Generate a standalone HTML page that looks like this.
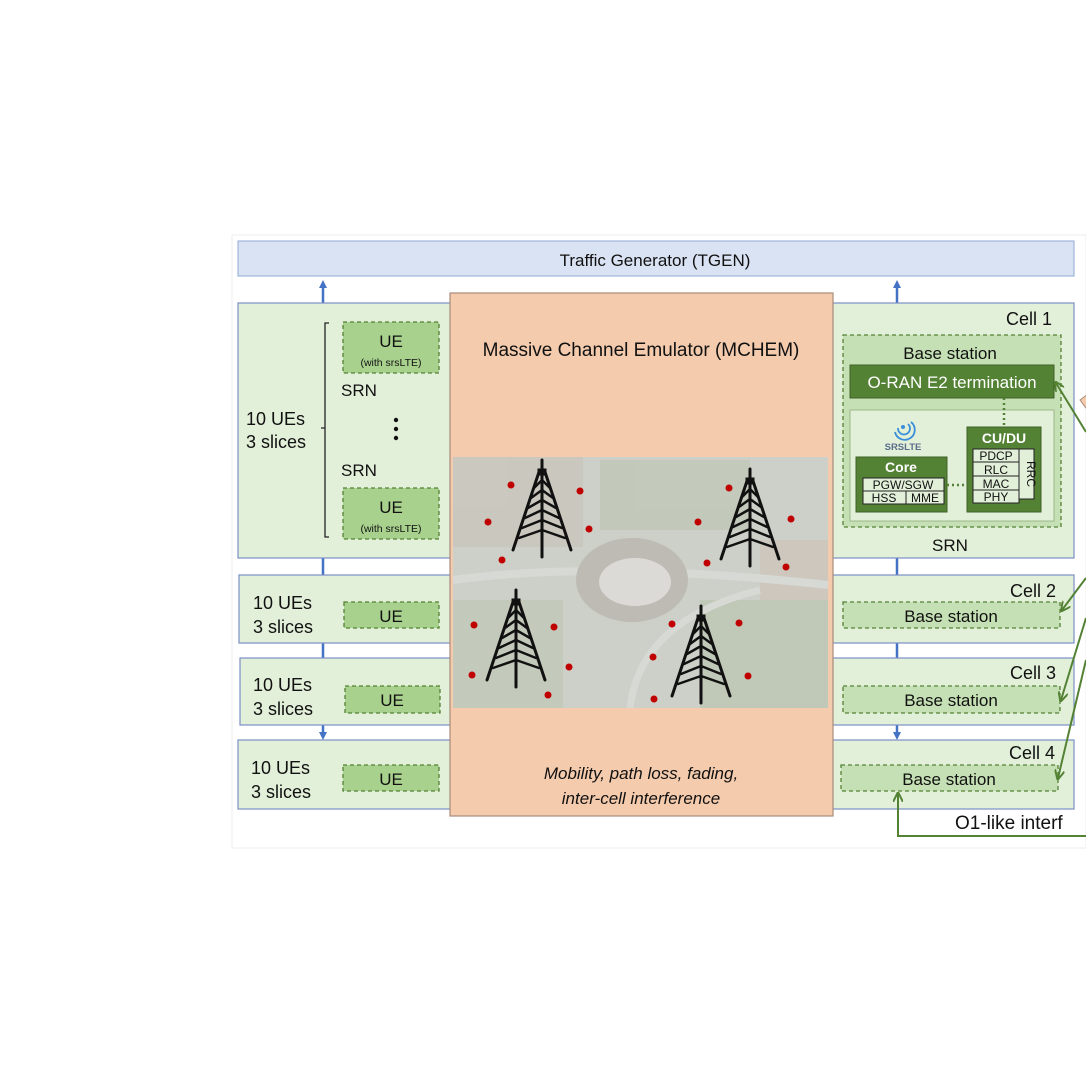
<!DOCTYPE html>
<html><head><meta charset="utf-8"><style>
html,body{margin:0;padding:0;background:#fff;width:1086px;height:1068px;overflow:hidden}
svg text{font-family:"Liberation Sans","DejaVu Sans",sans-serif}
</style></head><body>
<svg width="1086" height="1068" viewBox="0 0 1086 1068" xmlns="http://www.w3.org/2000/svg">
<defs>
<marker id="ab" markerWidth="8" markerHeight="8" refX="4" refY="4" orient="auto" markerUnits="userSpaceOnUse"><path d="M0,0 L8,4 L0,8 z" fill="#4472c4"/></marker>
<marker id="ag" markerWidth="10" markerHeight="10" refX="8" refY="5" orient="auto" markerUnits="userSpaceOnUse"><path d="M0,0 L10,5 L0,10" fill="none" stroke="#548235" stroke-width="2"/></marker>
<g id="tower" stroke="#111" stroke-width="3" fill="none" stroke-linecap="round">
<line x1="0" y1="0" x2="0" y2="97"/>
<path d="M-3,12 L-29,90 M3,12 L29,90"/>
<path d="M0,20 L-8,28 M0,20 L8,28 M0,30 L-11,38 M0,30 L11,38 M0,40 L-14,48 M0,40 L14,48 M0,50 L-17,58 M0,50 L17,58 M0,60 L-20,68 M0,60 L20,68 M0,70 L-23,78 M0,70 L23,78" stroke-width="2.5"/>
<rect x="-3" y="10" width="6" height="4" fill="#111"/>
</g>
</defs>
<rect x="232" y="235" width="854" height="613" fill="#fff" stroke="#eee"/>
<rect x="238" y="241" width="836" height="35" fill="#dae3f3" stroke="#8fa9d6"/>
<text x="655" y="266" font-size="17" text-anchor="middle" fill="#111">Traffic Generator (TGEN)</text>
<g stroke="#4472c4" stroke-width="2.5">
<line x1="323" y1="303" x2="323" y2="284" marker-end="url(#ab)"/>
<line x1="897" y1="303" x2="897" y2="284" marker-end="url(#ab)"/>
<line x1="323" y1="558" x2="323" y2="575"/><line x1="897" y1="558" x2="897" y2="575"/>
<line x1="323" y1="643" x2="323" y2="658"/><line x1="897" y1="643" x2="897" y2="658"/>
<line x1="323" y1="725" x2="323" y2="736" marker-end="url(#ab)"/><line x1="897" y1="725" x2="897" y2="736" marker-end="url(#ab)"/>
</g>
<g fill="#e2efd9" stroke="#7b8fc7" stroke-width="1.2">
<rect x="238" y="303" width="214" height="255"/><rect x="830" y="303" width="244" height="255"/>
<rect x="239" y="575" width="213" height="68"/><rect x="830" y="575" width="244" height="68"/>
<rect x="240" y="658" width="212" height="67"/><rect x="830" y="658" width="244" height="67"/>
<rect x="238" y="740" width="214" height="69"/><rect x="830" y="740" width="244" height="69"/>
</g>
<text x="246" y="425" font-size="18" fill="#111">10 UEs</text>
<text x="246" y="448" font-size="18" fill="#111">3 slices</text>
<path d="M329,323 L325,323 L325,537 L329,537 M325,428 L321,428" stroke="#222" fill="none" stroke-width="1.3"/>
<g fill="#a9d18e" stroke="#548235" stroke-dasharray="4,3" stroke-width="1.3">
<rect x="343" y="322" width="96" height="51"/><rect x="343" y="488" width="96" height="51"/>
<rect x="344" y="602" width="95" height="26"/><rect x="345" y="686" width="95" height="27"/><rect x="343" y="765" width="96" height="26"/>
</g>
<text x="391" y="347" font-size="17" text-anchor="middle" fill="#111">UE</text>
<text x="391" y="366" font-size="10.5" text-anchor="middle" fill="#111">(with srsLTE)</text>
<text x="391" y="513" font-size="17" text-anchor="middle" fill="#111">UE</text>
<text x="391" y="532" font-size="10.5" text-anchor="middle" fill="#111">(with srsLTE)</text>
<text x="341" y="396" font-size="17" fill="#111">SRN</text>
<text x="341" y="476" font-size="17" fill="#111">SRN</text>
<g fill="#111"><circle cx="396" cy="420" r="2.2"/><circle cx="396" cy="429" r="2.2"/><circle cx="396" cy="438" r="2.2"/></g>
<text x="253" y="609" font-size="18" fill="#111">10 UEs</text><text x="253" y="633" font-size="18" fill="#111">3 slices</text>
<text x="253" y="691" font-size="18" fill="#111">10 UEs</text><text x="253" y="715" font-size="18" fill="#111">3 slices</text>
<text x="251" y="774" font-size="18" fill="#111">10 UEs</text><text x="251" y="798" font-size="18" fill="#111">3 slices</text>
<text x="391" y="622" font-size="17" text-anchor="middle" fill="#111">UE</text>
<text x="392" y="706" font-size="17" text-anchor="middle" fill="#111">UE</text>
<text x="391" y="785" font-size="17" text-anchor="middle" fill="#111">UE</text>
<rect x="450" y="293" width="383" height="523" fill="#f4cbad" stroke="#a98a7a" stroke-width="1.2"/>
<text x="641" y="356" font-size="19" text-anchor="middle" fill="#111">Massive  Channel Emulator (MCHEM)</text>
<text x="641" y="779" font-size="17" font-style="italic" text-anchor="middle" fill="#111">Mobility, path loss, fading,</text>
<text x="641" y="804" font-size="17" font-style="italic" text-anchor="middle" fill="#111">inter-cell interference</text>
<rect x="453" y="457" width="375" height="251" fill="#cdd0c9"/>
<g opacity="0.5">
<rect x="453" y="457" width="130" height="90" fill="#c9bfb5"/>
<rect x="600" y="460" width="150" height="70" fill="#b9c3ae"/>
<rect x="760" y="540" width="68" height="100" fill="#cdbfb4"/>
<rect x="700" y="600" width="128" height="108" fill="#b5c2a8"/>
<rect x="453" y="600" width="110" height="108" fill="#bac3ae"/>
<path d="M453,580 Q600,560 828,585" stroke="#e2e2e2" stroke-width="8" fill="none"/>
<path d="M630,708 Q640,620 760,590" stroke="#e2e2e2" stroke-width="7" fill="none"/>
</g>
<ellipse cx="632" cy="580" rx="56" ry="42" fill="#bebbb5"/>
<ellipse cx="635" cy="582" rx="36" ry="24" fill="#dcdad6"/>
<g fill="#c00000">
<circle cx="511" cy="485" r="3.5"/><circle cx="580" cy="491" r="3.5"/><circle cx="488" cy="522" r="3.5"/><circle cx="589" cy="529" r="3.5"/><circle cx="502" cy="560" r="3.5"/>
<circle cx="729" cy="488" r="3.5"/><circle cx="698" cy="522" r="3.5"/><circle cx="791" cy="519" r="3.5"/><circle cx="707" cy="563" r="3.5"/><circle cx="786" cy="567" r="3.5"/>
<circle cx="474" cy="625" r="3.5"/><circle cx="554" cy="627" r="3.5"/><circle cx="672" cy="624" r="3.5"/><circle cx="739" cy="623" r="3.5"/><circle cx="653" cy="657" r="3.5"/>
<circle cx="569" cy="667" r="3.5"/><circle cx="472" cy="675" r="3.5"/><circle cx="548" cy="695" r="3.5"/><circle cx="748" cy="676" r="3.5"/><circle cx="654" cy="699" r="3.5"/>
</g>
<use href="#tower" x="542" y="460"/>
<use href="#tower" x="750" y="469"/>
<use href="#tower" x="516" y="590"/>
<use href="#tower" x="701" y="606"/>
<text x="1052" y="325" font-size="18" text-anchor="end" fill="#111">Cell 1</text>
<rect x="843" y="335" width="218" height="192" fill="#c5e0b4" stroke="#548235" stroke-dasharray="4,3" stroke-width="1.3"/>
<text x="950" y="359" font-size="17" text-anchor="middle" fill="#111">Base station</text>
<rect x="850" y="365" width="204" height="33" fill="#548235" stroke="#3f6326"/>
<text x="952" y="388" font-size="17" text-anchor="middle" fill="#fff">O-RAN  E2 termination</text>
<rect x="850" y="410" width="204" height="111" fill="#e2efd9" stroke="#9bb98a"/>
<line x1="1004" y1="398" x2="1004" y2="427" stroke="#548235" stroke-width="2.5" stroke-dasharray="2,3"/>
<g fill="none" stroke="#3a8fd8" stroke-width="1.8"><path d="M898,428 a6,6 0 1,0 10,-4"/><path d="M895,432 a10,10 0 1,0 16,-10"/></g>
<circle cx="903" cy="427" r="2" fill="#3a8fd8"/>
<text x="903" y="450" font-size="9.5" text-anchor="middle" fill="#5a6e8a" font-weight="bold">SRSLTE</text>
<rect x="856" y="457" width="91" height="55" fill="#548235" stroke="#3f6326"/>
<text x="901" y="472" font-size="14" text-anchor="middle" fill="#fff" font-weight="bold">Core</text>
<g fill="#e2efd9" stroke="#222" stroke-width="1">
<rect x="863" y="478" width="81" height="13"/><rect x="863" y="491" width="43" height="13"/><rect x="906" y="491" width="38" height="13"/>
</g>
<g font-size="12" text-anchor="middle" fill="#111">
<text x="903" y="489">PGW/SGW</text><text x="884" y="502">HSS</text><text x="925" y="502">MME</text>
</g>
<line x1="947" y1="485" x2="967" y2="485" stroke="#548235" stroke-width="2.5" stroke-dasharray="2,3"/>
<rect x="967" y="427" width="74" height="85" fill="#548235" stroke="#3f6326"/>
<text x="1004" y="443" font-size="14" text-anchor="middle" fill="#fff" font-weight="bold">CU/DU</text>
<g fill="#e2efd9" stroke="#222" stroke-width="1">
<rect x="1019" y="449" width="15" height="50"/>
<rect x="973" y="449" width="46" height="13"/><rect x="973" y="462" width="46" height="14"/><rect x="973" y="476" width="46" height="14"/><rect x="973" y="490" width="46" height="13"/>
</g>
<g font-size="12" text-anchor="middle" fill="#111">
<text x="996" y="460">PDCP</text><text x="996" y="474">RLC</text><text x="996" y="488">MAC</text><text x="996" y="501">PHY</text>
<text x="1027" y="474" transform="rotate(90 1027 474)">RRC</text>
</g>
<text x="950" y="551" font-size="17" text-anchor="middle" fill="#111">SRN</text>
<text x="1056" y="597" font-size="18" text-anchor="end" fill="#111">Cell 2</text>
<text x="1056" y="679" font-size="18" text-anchor="end" fill="#111">Cell 3</text>
<text x="1055" y="759" font-size="18" text-anchor="end" fill="#111">Cell 4</text>
<g fill="#c5e0b4" stroke="#548235" stroke-dasharray="4,3" stroke-width="1.3">
<rect x="843" y="602" width="217" height="26"/><rect x="843" y="686" width="217" height="27"/><rect x="841" y="765" width="217" height="26"/>
</g>
<text x="951" y="622" font-size="17" text-anchor="middle" fill="#111">Base station</text>
<text x="951" y="706" font-size="17" text-anchor="middle" fill="#111">Base station</text>
<text x="949" y="785" font-size="17" text-anchor="middle" fill="#111">Base station</text>
<path d="M1080,400 l8,-6 l6,8 l-8,6z" fill="#f4cbad" stroke="#a98a7a"/>
<g stroke="#548235" stroke-width="2" fill="none">
<line x1="1086" y1="432" x2="1056" y2="383" marker-end="url(#ag)"/>
<line x1="1086" y1="578" x2="1062" y2="610" marker-end="url(#ag)"/>
<line x1="1086" y1="618" x2="1061" y2="700" marker-end="url(#ag)"/>
<line x1="1086" y1="660" x2="1058" y2="778" marker-end="url(#ag)"/>
<path d="M1086,836 L898,836 L898,794" marker-end="url(#ag)"/>
</g>
<text x="955" y="829" font-size="19" fill="#111">O1-like interf</text>
</svg>
</body></html>
